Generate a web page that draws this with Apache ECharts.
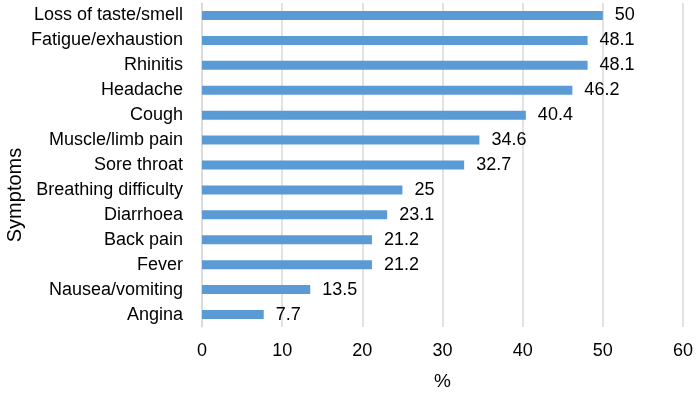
<!DOCTYPE html>
<html><head><meta charset="utf-8">
<script src="https://cdn.jsdelivr.net/npm/echarts@6/dist/echarts.min.js"></script>
<style>html,body{margin:0;padding:0;background:#fff}#c{width:699px;height:394px}</style>
</head><body><div id="c"></div>
<script>
const categories = ["Loss of taste/smell","Fatigue/exhaustion","Rhinitis","Headache","Cough","Muscle/limb pain","Sore throat","Breathing difficulty","Diarrhoea","Back pain","Fever","Nausea/vomiting","Angina"];
const values = [50,48.1,48.1,46.2,40.4,34.6,32.7,25,23.1,21.2,21.2,13.5,7.7];
const xTicks = [0,10,20,30,40,50,60];
const font = "'Liberation Sans', Arial, sans-serif";
const chart = echarts.init(document.getElementById('c'));
chart.setOption({
  animation:false,
  grid:{left:202,right:16,top:3,bottom:67,containLabel:false,outerBoundsMode:'none'},
  xAxis:{type:'value',min:xTicks[0],max:xTicks[xTicks.length-1],interval:10,
    name:'%',nameLocation:'middle',nameGap:45,nameMoveOverlap:false,
    nameTextStyle:{fontFamily:font,fontSize:19,color:'#000'},
    axisLine:{show:false},axisTick:{show:false},
    axisLabel:{fontFamily:font,fontSize:18,color:'#000',margin:15},
    splitLine:{show:true,lineStyle:{color:'#d9d9d9',width:1.5}}},
  yAxis:{type:'category',inverse:true,data:categories,
    name:'Symptoms',nameLocation:'middle',nameGap:177,nameRotate:90,nameMoveOverlap:false,
    nameTextStyle:{fontFamily:font,fontSize:20,color:'#000',padding:[0,60,0,0]},
    axisLine:{show:true,lineStyle:{color:'#d9d9d9',width:1.5}},axisTick:{show:false},
    axisLabel:{fontFamily:font,fontSize:18,color:'#000',margin:19}},
  series:[{type:'bar',data:values,barWidth:9,
    itemStyle:{color:'#5B9BD5'},
    label:{show:true,position:'right',distance:12,fontFamily:font,fontSize:18,color:'#000'}}]
});
</script></body></html>
